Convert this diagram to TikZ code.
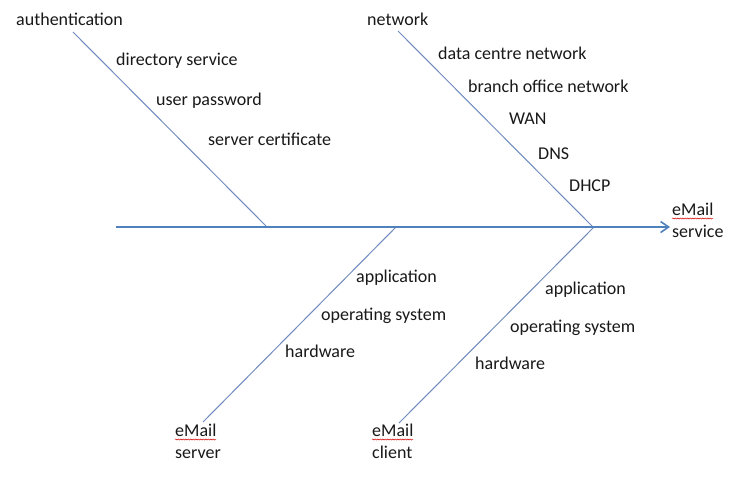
\documentclass[tikz,border=0pt]{standalone}
\usepackage{fontspec}
\setmainfont{Carlito}
\usetikzlibrary{arrows.meta,decorations.pathmorphing}
\definecolor{spineblue}{RGB}{79,129,189}
\definecolor{branchblue}{RGB}{112,138,190}
\definecolor{txt}{RGB}{25,25,25}
\begin{document}
\begin{tikzpicture}[x=1pt,y=-1pt,
  lbl/.style={anchor=base west,inner sep=0pt,font=\fontsize{18}{21.5}\selectfont,text=txt},
  twoline/.style={lbl,align=left},
  spine/.style={draw=spineblue,line width=2pt,-{Straight Barb[length=8pt,width=11pt,line width=1.6pt]}},
  branch/.style={draw=branchblue,line width=1pt},
  spell/.style={draw=red!85!black,line width=0.5pt,decorate,decoration={snake,amplitude=0.6pt,segment length=2.5pt}}]
\useasboundingbox (0,0) rectangle (742,480);
\fill[white] (0,0) rectangle (742,480);
% coordinates
\coordinate (sp0) at (116,227);
\coordinate (sp1) at (670,227);
\coordinate (a1) at (73,32);
\coordinate (a2) at (267,227);
\coordinate (n1) at (398,31);
\coordinate (n2) at (593,227);
\coordinate (s1) at (203,422);
\coordinate (s2) at (396,227);
\coordinate (c1) at (399,423);
\coordinate (c2) at (594,227);
% lines
\draw[branch] (a1) -- (a2);
\draw[branch] (n1) -- (n2);
\draw[branch] (s1) -- (s2);
\draw[branch] (c1) -- (c2);
\draw[spine] (sp0) -- (sp1);
% labels
\node[lbl] (auth) at (16,25) {authentication};
\node[lbl] (dir) at (116,65) {directory service};
\node[lbl] (pwd) at (156,105) {user password};
\node[lbl] (cert) at (208,145) {server certificate};
\node[lbl] (net) at (367,25) {network};
\node[lbl] (dcn) at (438,59) {data centre network};
\node[lbl] (bon) at (468,92) {branch office network};
\node[lbl] (wan) at (509,124) {WAN};
\node[lbl] (dns) at (538,159) {DNS};
\node[lbl] (dhcp) at (569,191) {DHCP};
\node[lbl] (sapp) at (356,282) {application};
\node[lbl] (sos) at (321,320) {operating system};
\node[lbl] (shw) at (285,357) {hardware};
\node[lbl] (capp) at (545,294) {application};
\node[lbl] (cos) at (510,332) {operating system};
\node[lbl] (chw) at (475,369) {hardware};
\node[twoline] (svc) at (672,237) {eMail\\service};
\node[twoline] (srv) at (175,458) {eMail\\server};
\node[twoline] (cli) at (372,458) {eMail\\client};
% spell-check underlines
\draw[spell] ([yshift=18.5pt]svc.base west) -- ++(41,0);
\draw[spell] ([yshift=18.5pt]srv.base west) -- ++(41,0);
\draw[spell] ([yshift=18.5pt]cli.base west) -- ++(41,0);
\end{tikzpicture}
\end{document}
